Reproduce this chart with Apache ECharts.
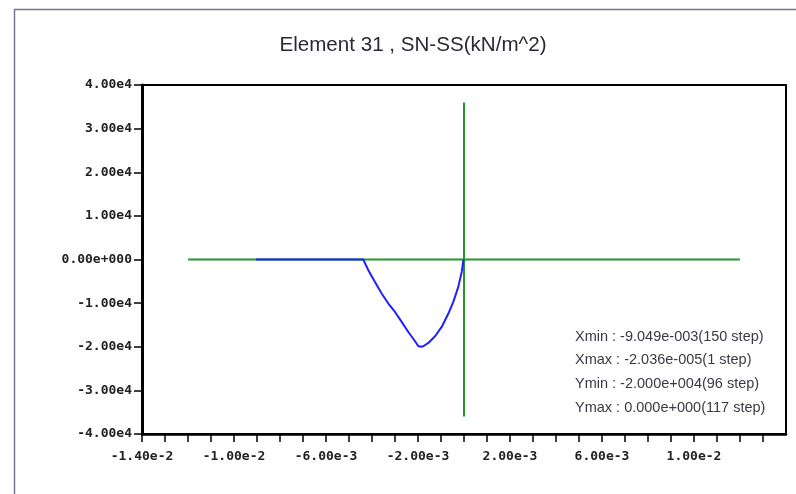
<!DOCTYPE html>
<html>
<head>
<meta charset="utf-8">
<script src="https://cdn.jsdelivr.net/npm/echarts@6/dist/echarts.min.js"></script>
<style>
  html, body { margin: 0; padding: 0; background: #fff; }
  #chart { width: 796px; height: 494px; }
</style>
</head>
<body>
<div id="chart"></div>
<script>
// Stress history of element 31: SN-SS (kN/m^2) against strain
const titleText = 'Element 31 , SN-SS(kN/m^2)';

// Axis ticks and their labels
const xLabelValues = [-0.014, -0.010, -0.006, -0.002, 0.002, 0.006, 0.010];
const xLabels = ['-1.40e-2', '-1.00e-2', '-6.00e-3', '-2.00e-3', '2.00e-3', '6.00e-3', '1.00e-2'];
const yLabelValues = [40000, 30000, 20000, 10000, 0, -10000, -20000, -30000, -40000];
const yLabels = ['4.00e4', '3.00e4', '2.00e4', '1.00e4', '0.00e+000', '-1.00e4', '-2.00e4', '-3.00e4', '-4.00e4'];

// Reference (zero) cross lines
const refLineX = [-0.012, 0.012];
const refLineY = [-36000, 36000];

// Stress-strain path
const curveX = [-9.049e-3, -4.38e-3, -4.16e-3, -3.87e-3, -3.58e-3, -3.29e-3, -3.00e-3, -2.71e-3,
  -2.42e-3, -2.16e-3, -1.99e-3, -1.87e-3, -1.77e-3, -1.55e-3, -1.26e-3, -0.97e-3, -0.68e-3,
  -0.465e-3, -0.248e-3, -0.10e-3, -2.036e-5];
const curveY = [0, 0, -2450, -5140, -7800, -10090, -12020, -14310,
  -16610, -18510, -19820, -20000, -19890, -19130, -17590, -15460, -12390,
  -9720, -6280, -2840, 0];

// Extremes summary
const statNames = ['Xmin', 'Xmax', 'Ymin', 'Ymax'];
const statValues = [-9.049e-3, -2.036e-5, -2.000e4, 0];
const statSteps = [150, 1, 96, 117];

function sci(v) {
  const parts = v.toExponential(3).split('e');
  const sign = parts[1][0] === '-' ? '-' : '+';
  const digits = parts[1].replace(/[+-]/, '');
  return parts[0] + 'e' + sign + digits.padStart(3, '0');
}

function pickLabel(values, labels, v, eps) {
  for (let i = 0; i < values.length; i++) {
    if (Math.abs(values[i] - v) < eps) return labels[i];
  }
  return '';
}

const tickFont = {
  fontFamily: 'DejaVu Sans Mono',
  fontSize: 13,
  fontWeight: 'bold',
  color: '#222'
};

const statTexts = statNames.map((n, i) => ({
  type: 'text',
  left: 575,
  top: 329 + i * 23.7,
  silent: true,
  style: {
    text: n + ' : ' + sci(statValues[i]) + '(' + statSteps[i] + ' step)',
    font: '14.5px "Liberation Sans", Arial, sans-serif',
    fill: '#3a3a44'
  }
}));

const chart = echarts.init(document.getElementById('chart'));
chart.setOption({
  animation: false,
  backgroundColor: '#fff',
  title: {
    text: titleText,
    left: 408,
    top: 30,
    textAlign: 'center',
    textStyle: {
      fontFamily: '"Liberation Sans", Arial, sans-serif',
      fontSize: 20.6,
      fontWeight: 'normal',
      color: '#2a2a36'
    }
  },
  grid: {
    left: 142,
    right: 10,
    top: 85,
    bottom: 60,
    show: true,
    borderColor: '#000',
    borderWidth: 2
  },
  xAxis: {
    type: 'value',
    min: -0.014,
    max: 0.014,
    interval: 0.001,
    axisLine: { onZero: false, lineStyle: { color: '#000', width: 2.5 } },
    axisTick: { show: true, length: 8, lineStyle: { color: '#000', width: 1.5 } },
    splitLine: { show: false },
    axisLabel: Object.assign({
      margin: 16,
      showMaxLabel: false,
      formatter: v => pickLabel(xLabelValues, xLabels, v, 1e-9)
    }, tickFont)
  },
  yAxis: {
    type: 'value',
    min: -40000,
    max: 40000,
    interval: 10000,
    axisLine: { onZero: false, lineStyle: { color: '#000', width: 3 } },
    axisTick: { show: true, length: 8, lineStyle: { color: '#000', width: 1.5 } },
    splitLine: { show: false },
    axisLabel: Object.assign({
      margin: 10,
      formatter: v => pickLabel(yLabelValues, yLabels, v, 1e-6)
    }, tickFont)
  },
  graphic: [
    {
      type: 'rect',
      silent: true,
      z: -1,
      shape: { x: 14.5, y: 9.5, width: 900, height: 600 },
      style: { fill: 'none', stroke: '#76768e', lineWidth: 1.5 }
    }
  ].concat(statTexts),
  series: [
    {
      type: 'line',
      silent: true,
      symbol: 'none',
      data: refLineX.map(x => [x, 0]),
      lineStyle: { color: '#24982a', width: 2 }
    },
    {
      type: 'line',
      silent: true,
      symbol: 'none',
      data: refLineY.map(y => [0, y]),
      lineStyle: { color: '#24982a', width: 2 }
    },
    {
      type: 'line',
      silent: true,
      symbol: 'none',
      data: curveX.map((x, i) => [x, curveY[i]]),
      lineStyle: { color: '#2020ff', width: 2 }
    }
  ]
});
</script>
</body>
</html>
